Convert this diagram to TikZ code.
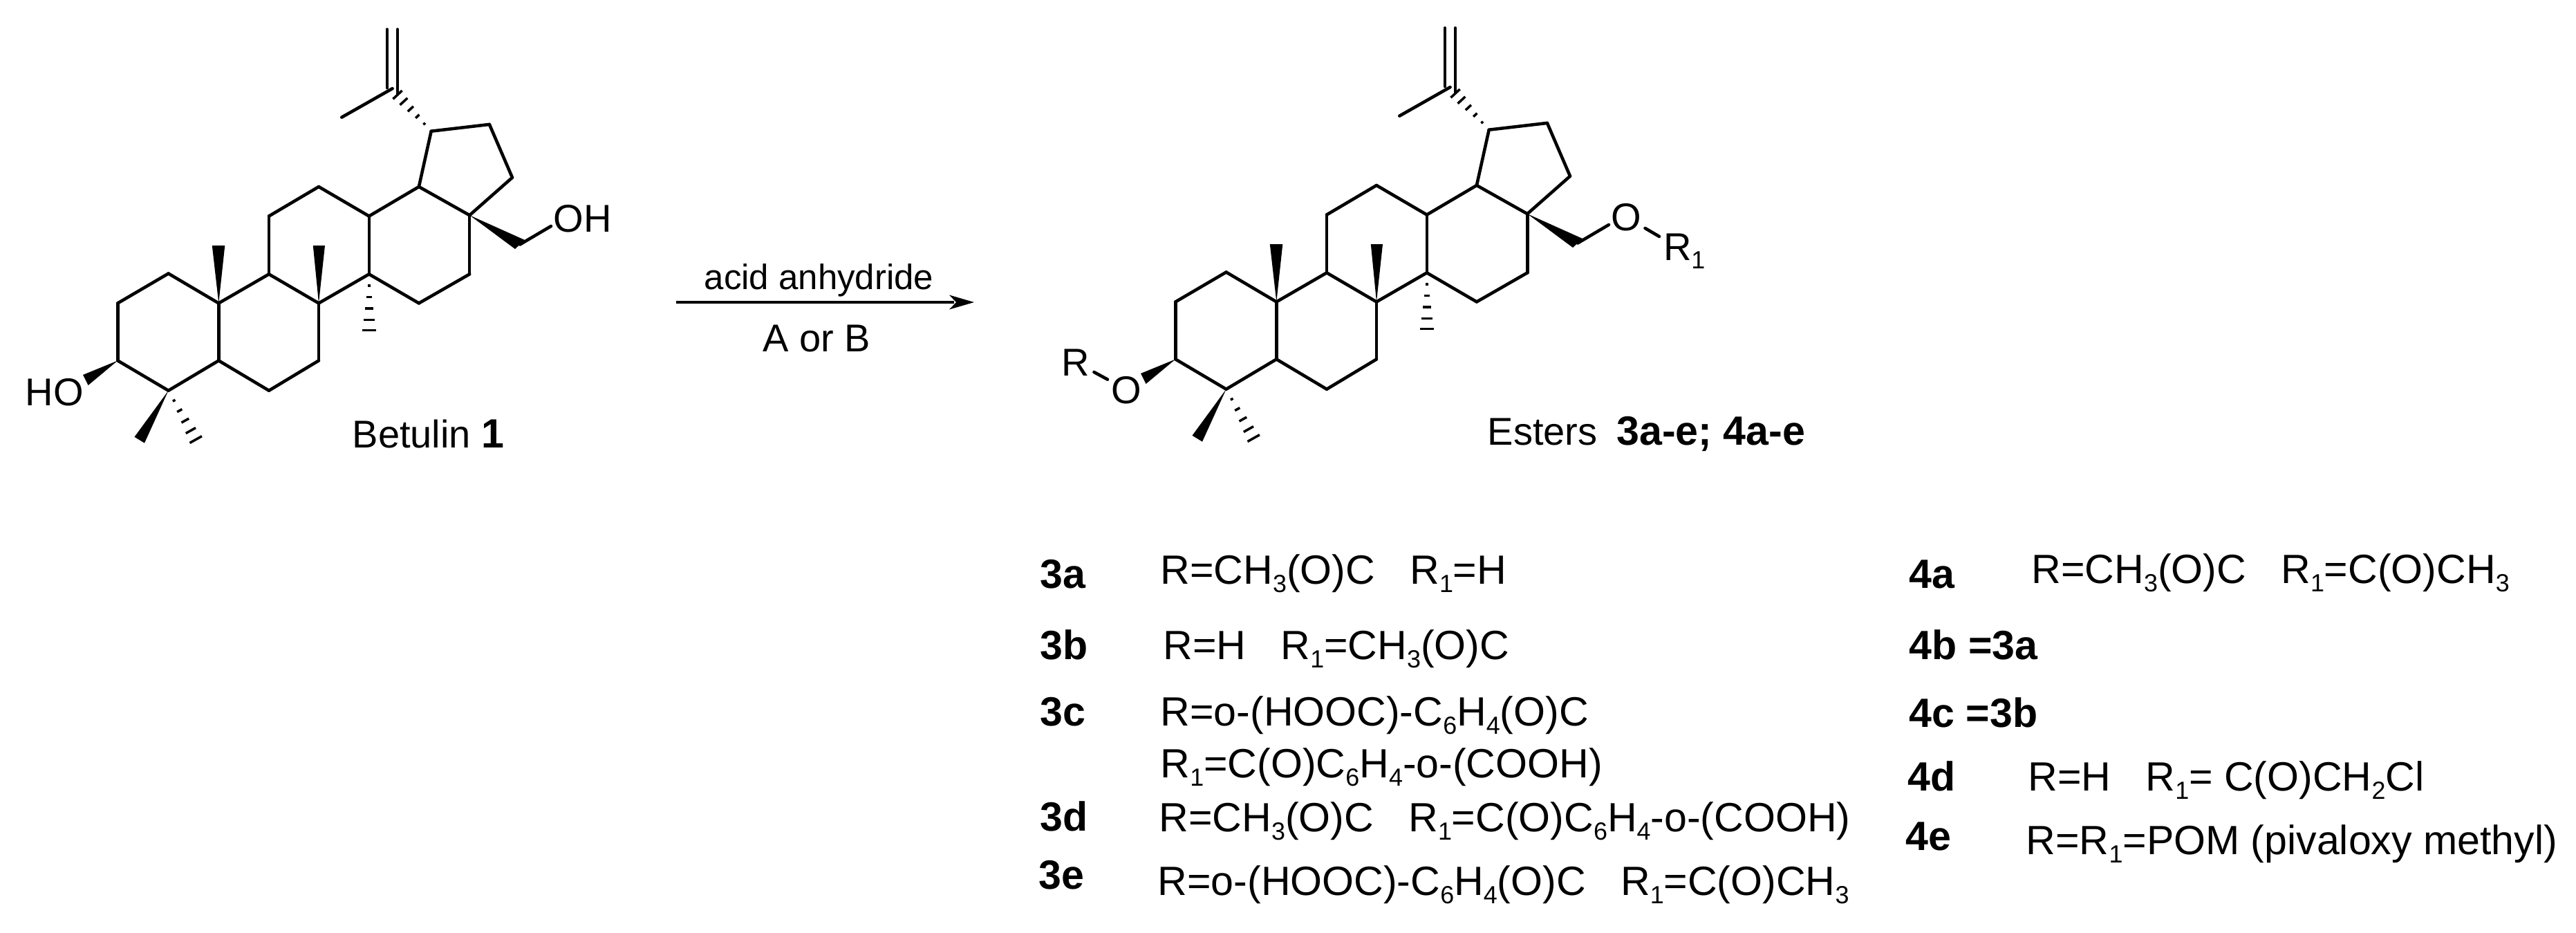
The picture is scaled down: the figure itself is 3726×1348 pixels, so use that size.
\documentclass[tikz,border=0pt]{standalone}
\usepackage{fontspec}
\setmainfont{Liberation Sans}
\usetikzlibrary{calc}

\newcommand{\lowered}[1]{\raisebox{-0.21em}{\fontsize{10.2}{11}\selectfont #1}}
\newcommand{\numfont}{\fontsize{16.8}{19}\selectfont\bfseries}
\tikzset{
	bond/.style={line width=1.3pt, line cap=round},
	hashline/.style={line width=1pt},
	wedge/.style={fill=black},
	lbl/.style={anchor=base west, inner sep=0pt, font=\fontsize{15.93}{18}\selectfont},
	num/.style={lbl, font=\numfont},
	row/.style={lbl, font=\fontsize{16.8}{19}\selectfont},
	reagent/.style={anchor=base west, inner sep=0pt, font=\fontsize{14.5}{17}\selectfont},
	atom/.style={anchor=base west, inner sep=1.5pt, font=\fontsize{15.93}{18}\selectfont},
}
\def\hashbond(#1)(#2)[#3]{\foreach \pos in {0.2,0.4,0.6,0.8,0.98}{
		\coordinate (hp) at ($(#1)!\pos!(#2)$);
		\draw[hashline] ($(hp)!\pos*#3!90:(#1)$) -- ($(hp)!\pos*#3!-90:(#1)$);}}
\def\lupane{
	\coordinate (a1) at (243.6, 395.5); \coordinate (a2) at (170.3, 438.4);
	\coordinate (a3) at (170.3, 521.4); \coordinate (a4) at (243.6, 564.7);
	\coordinate (a5) at (316.3, 521.4); \coordinate (a6) at (316.3, 438.4);
	\coordinate (b1) at (389, 564.7); \coordinate (b2) at (461, 521.4);
	\coordinate (b3) at (461, 438.4); \coordinate (b4) at (389, 396.4);
	\coordinate (c1) at (533.8, 396.4); \coordinate (c2) at (533.8, 312.5);
	\coordinate (c3) at (461, 270); \coordinate (c4) at (389, 312.5);
	\coordinate (d1) at (605.9, 270); \coordinate (d2) at (679.2, 311.2);
	\coordinate (d3) at (679.2, 396.4); \coordinate (d4) at (605.9, 438.4);
	\coordinate (e1) at (741, 256.7); \coordinate (e2) at (707.9, 179.9);
	\coordinate (e3) at (623.7, 189.7);
	\coordinate (vc) at (567.6, 128); \coordinate (vm) at (494.3, 169.6);
	\coordinate (vl) at (560, 42.5); \coordinate (vlb) at (560, 127);
	\coordinate (vr) at (575, 42.5); \coordinate (vrb) at (575, 136);
	\coordinate (ch) at (752, 353.5); \coordinate (chb) at (797, 327);
	\foreach \p/\q in {a1/a2,a2/a3,a3/a4,a4/a5,a5/a6,a6/a1,a5/b1,b1/b2,b2/b3,b3/b4,b4/a6,
		b3/c1,c1/c2,c2/c3,c3/c4,c4/b4,c1/d4,d4/d3,d3/d2,d2/d1,d1/c2,d2/e1,e1/e2,e2/e3,e3/d1,
		vc/vm,vl/vlb,vr/vrb,ch/chb}{\draw[bond] (\p) -- (\q);}
	% wedges
	\fill[wedge] (a6) -- (306.8, 355) -- (325.3, 355) -- cycle;
	\fill[wedge] (b3) -- (452.8, 355) -- (470, 355) -- cycle;
	\fill[wedge] (d2) -- (759, 347) -- (745, 360) -- cycle;
	\fill[wedge] (a3) -- (120, 542) -- (127.6, 557) -- cycle;
	\fill[wedge] (a4) -- (194.5, 631.7) -- (209, 640.6) -- cycle;
	% hashes
	\coordinate (hc) at (533.8, 479); \hashbond(c1)(hc)[2.9pt];
	\coordinate (ha) at (284, 637); \hashbond(a4)(ha)[2.9pt];
	\coordinate (hv) at (574, 136); \hashbond(e3)(hv)[2.6pt];
}

\begin{document}
\begin{tikzpicture}[x=0.01cm, y=-0.01cm]
	\useasboundingbox (0, 0) rectangle (3726, 1348);
	
	%%%%% betulin %%%%%
	\begin{scope}[name prefix=s-]
		\lupane
	\end{scope}
	\node[lbl] (oh) at (800, 335) {OH};
	\node[lbl] (ho) at (36, 586) {HO};
	\node[lbl] (betulin) at (509, 647) {Betulin {\numfont 1}};
	
	%%%%% arrow %%%%%
	\node[reagent] (reagent) at (1018, 418) {acid anhydride};
	\node[lbl] (cond) at (1103, 508) {A or B};
	\coordinate (arrowstart) at (978, 437);
	\coordinate (arrowend) at (1409, 437);
	\draw[line width=1.2pt] (arrowstart) -- (1380, 437);
	\fill (arrowend) -- (1373, 426.5) -- (1383, 437) -- (1373, 447.5) -- cycle;
	
	%%%%% esters %%%%%
	\begin{scope}[shift={(1530, -2)}, name prefix=p-]
		\lupane
	\end{scope}
	\node[atom] (ob) at (2324, 333) {O};
	\node[atom] (rb) at (2400, 376.5) {R\lowered{1}};
	\draw[bond] (ob) -- (rb);
	\node[atom] (oa) at (1602, 583) {O};
	\node[atom] (ra) at (1530, 543) {R};
	\draw[bond] (oa) -- (ra);
	\node[lbl] (esters) at (2151, 643) {Esters\hspace{0.5em}{\numfont 3a-e; 4a-e}};
	
	%%%%% table %%%%%
	\node[num] (la) at (1504, 850) {3a};
	\node[num] (lb) at (1504, 953) {3b};
	\node[num] (lc) at (1504, 1049) {3c};
	\node[num] (ld) at (1504, 1201) {3d};
	\node[num] (le) at (1502, 1285) {3e};
	\node[row] (ta) at (1678, 844) {R=CH\lowered{3}(O)C\hspace{0.85em}R\lowered{1}=H};
	\node[row] (tb) at (1682, 953) {R=H\hspace{0.85em}R\lowered{1}=CH\lowered{3}(O)C};
	\node[row] (tc) at (1678, 1049) {R=o-(HOOC)-C\lowered{6}H\lowered{4}(O)C};
	\node[row] (tcc) at (1678, 1124) {R\lowered{1}=C(O)C\lowered{6}H\lowered{4}-o-(COOH)};
	\node[row] (td) at (1676, 1202) {R=CH\lowered{3}(O)C\hspace{0.85em}R\lowered{1}=C(O)C\lowered{6}H\lowered{4}-o-(COOH)};
	\node[row] (te) at (1674, 1294) {R=o-(HOOC)-C\lowered{6}H\lowered{4}(O)C\hspace{0.85em}R\lowered{1}=C(O)CH\lowered{3}};
	
	\node[num] (ma) at (2761, 850) {4a};
	\node[num] (mb) at (2761, 953) {4b =3a};
	\node[num] (mc) at (2761, 1051) {4c =3b};
	\node[num] (md) at (2759, 1143) {4d};
	\node[num] (me) at (2756, 1229) {4e};
	\node[row] (ua) at (2938, 843) {R=CH\lowered{3}(O)C\hspace{0.85em}R\lowered{1}=C(O)CH\lowered{3}};
	\node[row] (ud) at (2933, 1143) {R=H\hspace{0.85em}R\lowered{1}= C(O)CH\lowered{2}Cl};
	\node[row] (ue) at (2930, 1235) {R=R\lowered{1}=POM (pivaloxy methyl)};
\end{tikzpicture}
\end{document}
